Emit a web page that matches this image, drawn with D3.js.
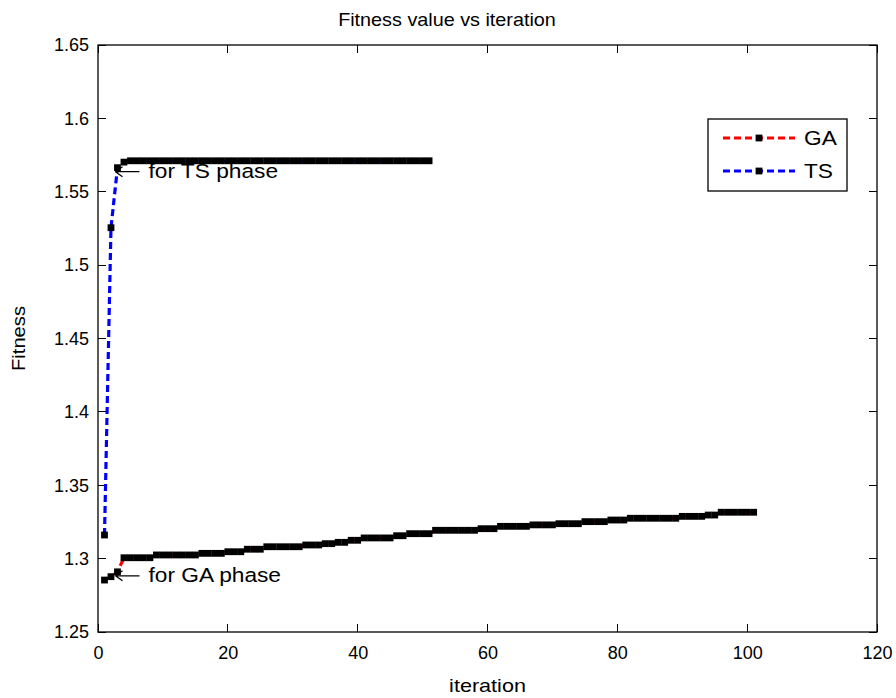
<!DOCTYPE html>
<html>
<head>
<meta charset="utf-8">
<title>Fitness value vs iteration</title>
<script type="text/javascript" src="https://cdn.jsdelivr.net/npm/d3@7/dist/d3.min.js"></script>
<style>
	body { margin: 0; background: #fff; }
	text { font-family: Arial, "Liberation Sans", Helvetica, sans-serif; fill: #000; }
</style>
</head>
<body>
<div id="plot"></div>
<script type="text/javascript">

// fitness of the GA run, iterations 1..101
var gaFitness = [
	1.2854, 1.2877, 1.2910, 1.3006, 1.3006, 1.3006, 1.3006, 1.3006, 1.3025, 1.3025,
	1.3025, 1.3025, 1.3025, 1.3025, 1.3025, 1.3036, 1.3036, 1.3036, 1.3036, 1.3047,
	1.3047, 1.3047, 1.3064, 1.3064, 1.3064, 1.3081, 1.3081, 1.3081, 1.3081, 1.3081,
	1.3081, 1.3093, 1.3093, 1.3093, 1.3102, 1.3102, 1.3111, 1.3111, 1.3125, 1.3125,
	1.3141, 1.3141, 1.3141, 1.3141, 1.3141, 1.3156, 1.3156, 1.3170, 1.3170, 1.3170,
	1.3170, 1.3193, 1.3193, 1.3193, 1.3193, 1.3193, 1.3193, 1.3193, 1.3204, 1.3204,
	1.3204, 1.3220, 1.3220, 1.3220, 1.3220, 1.3220, 1.3230, 1.3230, 1.3230, 1.3230,
	1.3238, 1.3238, 1.3238, 1.3238, 1.3252, 1.3252, 1.3252, 1.3252, 1.3263, 1.3263,
	1.3263, 1.3275, 1.3275, 1.3275, 1.3275, 1.3275, 1.3275, 1.3275, 1.3275, 1.3288,
	1.3288, 1.3288, 1.3288, 1.3297, 1.3297, 1.3316, 1.3316, 1.3316, 1.3316, 1.3316,
	1.3316
];

// fitness of the TS run, iterations 1..51
var tsFitness = [
	1.3161, 1.5255, 1.5664, 1.5702, 1.5711, 1.5711, 1.5711, 1.5711, 1.5711, 1.5711,
	1.5711, 1.5711, 1.5711, 1.5711, 1.5711, 1.5711, 1.5711, 1.5711, 1.5711, 1.5711,
	1.5711, 1.5711, 1.5711, 1.5711, 1.5711, 1.5711, 1.5711, 1.5711, 1.5711, 1.5711,
	1.5711, 1.5711, 1.5711, 1.5711, 1.5711, 1.5711, 1.5711, 1.5711, 1.5711, 1.5711,
	1.5711, 1.5711, 1.5711, 1.5711, 1.5711, 1.5711, 1.5711, 1.5711, 1.5711, 1.5711,
	1.5711
];

var seriesNames = ["GA", "TS"];
var seriesColors = ["#ff0000", "#0000ff"];
var xTicks = [0, 20, 40, 60, 80, 100, 120];
var yTicks = [1.25, 1.3, 1.35, 1.4, 1.45, 1.5, 1.55, 1.6, 1.65];
var noteIter = 3;  // both annotations point at iteration 3

var W = 896, H = 698;
var box = {left: 98, right: 877, top: 45, bottom: 632};
var tickLen = 8;
var stretch = 1.165;  // text in the picture is a little wide

var x = d3.scaleLinear().domain([0, 120]).range([box.left, box.right]);
var y = d3.scaleLinear().domain([1.25, 1.65]).range([box.bottom, box.top]);

var svg = d3.select("#plot").append("svg")
	.attr("width", W)
	.attr("height", H);

svg.append("rect")
	.attr("width", W).attr("height", H)
	.attr("fill", "#fff");

// axes: MATLAB style, ticks inside on all four sides
var xAxis = d3.axisBottom(x).tickValues(xTicks).tickSize(0).tickPadding(14)
	.tickFormat(d3.format("d"));
var yAxis = d3.axisLeft(y).tickValues(yTicks).tickSize(0).tickPadding(9)
	.tickFormat(function(d) { return String(+d.toFixed(2)); });

var gx = svg.append("g")
	.attr("transform", "translate(0," + box.bottom + ")")
	.call(xAxis);
var gy = svg.append("g")
	.attr("transform", "translate(" + box.left + ",0)")
	.call(yAxis);
[gx, gy].forEach(function(g) {
	g.select(".domain").remove();
	g.selectAll("text")
		.style("font-size", "18px")
		.style("font-family", "Arial, 'Liberation Sans', sans-serif");
});

var ticks = svg.append("g")
	.attr("stroke", "#000")
	.attr("stroke-width", 1)
	.attr("shape-rendering", "crispEdges");
ticks.selectAll(".xb").data(xTicks).enter().append("line")
	.attr("x1", function(d) { return x(d); }).attr("x2", function(d) { return x(d); })
	.attr("y1", box.bottom).attr("y2", box.bottom - tickLen);
ticks.selectAll(".xt").data(xTicks).enter().append("line")
	.attr("x1", function(d) { return x(d); }).attr("x2", function(d) { return x(d); })
	.attr("y1", box.top).attr("y2", box.top + tickLen);
ticks.selectAll(".yl").data(yTicks).enter().append("line")
	.attr("y1", function(d) { return y(d); }).attr("y2", function(d) { return y(d); })
	.attr("x1", box.left).attr("x2", box.left + tickLen);
ticks.selectAll(".yr").data(yTicks).enter().append("line")
	.attr("y1", function(d) { return y(d); }).attr("y2", function(d) { return y(d); })
	.attr("x1", box.right).attr("x2", box.right - tickLen);

svg.append("rect")
	.attr("x", box.left).attr("y", box.top)
	.attr("width", box.right - box.left).attr("height", box.bottom - box.top)
	.attr("fill", "none")
	.attr("stroke", "#000")
	.attr("stroke-width", 1.3);

// lines + square markers
var line = d3.line()
	.x(function(d, i) { return x(i + 1); })
	.y(function(d) { return y(d); });

var markerSize = 6.8;
function drawSeries(values, color) {
	svg.append("path")
		.attr("d", line(values))
		.attr("fill", "none")
		.attr("stroke", color)
		.attr("stroke-width", 3.2)
		.attr("stroke-dasharray", "7,4");
	svg.append("g").selectAll("rect")
		.data(values)
		.enter().append("rect")
		.attr("x", function(d, i) { return x(i + 1) - markerSize / 2; })
		.attr("y", function(d) { return y(d) - markerSize / 2; })
		.attr("width", markerSize)
		.attr("height", markerSize)
		.attr("fill", "#000");
}
drawSeries(gaFitness, seriesColors[0]);
drawSeries(tsFitness, seriesColors[1]);

// text annotations with left arrow
function note(px, py, label) {
	var g = svg.append("g").attr("transform", "translate(" + px + "," + py + ")");
	g.append("path")
		.attr("d", "M-2,4 H22 M-2,4 L5,-1 M-2,4 L5,9")
		.attr("fill", "none")
		.attr("stroke", "#000")
		.attr("stroke-width", 1.3);
	g.append("text")
		.attr("transform", "translate(31,10) scale(" + stretch + ",1)")
		.style("font-size", "19.5px")
		.text(label);
}
note(x(noteIter), y(tsFitness[noteIter - 1]), "for TS phase");
note(x(noteIter), y(gaFitness[noteIter - 1]), "for GA phase");

// legend
var lg = svg.append("g").attr("transform", "translate(708,119)");
lg.append("rect")
	.attr("width", 139).attr("height", 72)
	.attr("fill", "#fff")
	.attr("stroke", "#000")
	.attr("stroke-width", 1.3);
seriesNames.forEach(function(name, i) {
	var ly = 19 + i * 33;
	lg.append("line")
		.attr("x1", 15).attr("x2", 87)
		.attr("y1", ly).attr("y2", ly)
		.attr("stroke", seriesColors[i])
		.attr("stroke-width", 3.2)
		.attr("stroke-dasharray", "7,4");
	lg.append("rect")
		.attr("x", 51 - markerSize / 2).attr("y", ly - markerSize / 2)
		.attr("width", markerSize).attr("height", markerSize)
		.attr("fill", "#000");
	lg.append("text")
		.attr("transform", "translate(96," + (ly + 7) + ") scale(" + stretch + ",1)")
		.style("font-size", "19.5px")
		.text(name);
});

// titles
svg.append("text")
	.attr("transform", "translate(447,26) scale(1.1,1)")
	.attr("text-anchor", "middle")
	.style("font-size", "18px")
	.text("Fitness value vs iteration");

svg.append("text")
	.attr("transform", "translate(" + ((box.left + box.right) / 2) + ",692) scale(1.2,1)")
	.attr("text-anchor", "middle")
	.style("font-size", "18px")
	.text("iteration");

svg.append("text")
	.attr("transform", "translate(25," + ((box.top + box.bottom) / 2) + ") rotate(-90) scale(1.12,1)")
	.attr("text-anchor", "middle")
	.style("font-size", "18px")
	.text("Fitness");

</script>
</body>
</html>
